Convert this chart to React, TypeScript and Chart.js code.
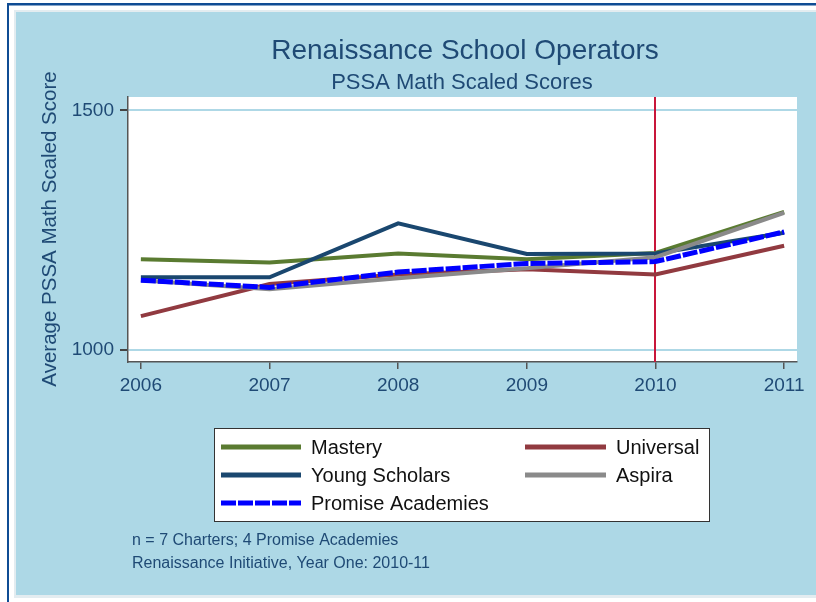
import React, { useEffect, useRef } from "react";
import { Chart, registerables } from "chart.js";

Chart.register(...registerables);

// ---- Data ----
const years = [2006, 2007, 2008, 2009, 2010, 2011];
const mastery = [1189, 1182, 1201, 1189, 1202, 1288];
const universal = [1070, 1137, 1157, 1168, 1157, 1217];
const youngScholars = [1151, 1151, 1264, 1200, 1201, 1244];
const aspira = [1145, 1126, 1149, 1170, 1193, 1286];
const promiseAcademies = [1145, 1130, 1162, 1180, 1184, 1246];
const yTickValues = [1000, 1500];
const markerYear = 2010;

const titleText = "Renaissance School Operators";
const subtitleText = "PSSA Math Scaled Scores";
const yAxisTitle = "Average PSSA Math Scaled Score";
const noteLines = ["n = 7 Charters; 4 Promise Academies", "Renaissance Initiative, Year One: 2010-11"];

const FONT = '"Liberation Sans", Arial, Helvetica, sans-serif';
const NAVY_TEXT = "#1f4a75";

type Series = { label: string; data: number[]; color: string; dash: number[]; order: number; col: number; row: number };

const series: Series[] = [
  { label: "Mastery", data: mastery, color: "#5a7b31", dash: [], order: 4, col: 0, row: 0 },
  { label: "Universal", data: universal, color: "#913a40", dash: [], order: 3, col: 1, row: 0 },
  { label: "Young Scholars", data: youngScholars, color: "#1a476f", dash: [], order: 2, col: 0, row: 1 },
  { label: "Aspira", data: aspira, color: "#8a8a8a", dash: [], order: 1, col: 1, row: 1 },
  { label: "Promise Academies", data: promiseAcademies, color: "#0000ff", dash: [15, 2], order: 0, col: 0, row: 2 },
];

const decor = {
  id: "decor",
  beforeDraw(chart: any) {
    const { ctx, width, height, chartArea } = chart;
    ctx.save();
    ctx.fillStyle = "#ffffff";
    ctx.fillRect(0, 0, width, height);
    ctx.fillStyle = "#e3ecf0";
    ctx.fillRect(14, 10, width - 14, 588);
    ctx.fillStyle = "#add8e6";
    ctx.fillRect(16, 12, width - 16, 583);
    ctx.fillStyle = "#0f4c94";
    ctx.fillRect(7, 3, width - 7, 2.5);
    ctx.fillRect(7, 3, 2, height - 3);
    ctx.fillStyle = "#ffffff";
    ctx.fillRect(chartArea.left, chartArea.top, chartArea.right - chartArea.left, chartArea.bottom - chartArea.top);
    ctx.restore();
  },
  beforeDatasetsDraw(chart: any) {
    const { ctx, chartArea } = chart;
    const x = Math.round(chart.scales.x.getPixelForValue(markerYear));
    ctx.save();
    ctx.strokeStyle = "#c8163a";
    ctx.lineWidth = 2;
    ctx.beginPath();
    ctx.moveTo(x, chartArea.top);
    ctx.lineTo(x, chartArea.bottom);
    ctx.stroke();
    ctx.restore();
  },
  afterDraw(chart: any) {
    const { ctx } = chart;
    ctx.save();
    // Titles
    ctx.fillStyle = NAVY_TEXT;
    ctx.textAlign = "center";
    ctx.textBaseline = "alphabetic";
    ctx.font = `28px ${FONT}`;
    ctx.fillText(titleText, 465, 59);
    ctx.font = `22px ${FONT}`;
    ctx.fillText(subtitleText, 462, 89);

    // Y axis title
    ctx.save();
    ctx.translate(56, 229);
    ctx.rotate(-Math.PI / 2);
    ctx.font = `20.5px ${FONT}`;
    ctx.textAlign = "center";
    ctx.fillText(yAxisTitle, 0, 0);
    ctx.restore();

    // Legend
    const bx = 214, by = 428, bw = 496, bh = 94;
    ctx.fillStyle = "#ffffff";
    ctx.fillRect(bx, by, bw, bh);
    ctx.strokeStyle = "#333333";
    ctx.lineWidth = 1;
    ctx.strokeRect(bx + 0.5, by + 0.5, bw - 1, bh - 1);
    const rowsY = [447, 475, 503];
    const colLine = [[221, 301], [525, 606]];
    const colText = [311, 616];
    ctx.font = `20px ${FONT}`;
    ctx.textAlign = "left";
    ctx.textBaseline = "middle";
    series.forEach((s) => {
      const y = rowsY[s.row];
      ctx.strokeStyle = s.color;
      ctx.lineWidth = 5;
      ctx.setLineDash(s.dash);
      ctx.beginPath();
      ctx.moveTo(colLine[s.col][0], y);
      ctx.lineTo(colLine[s.col][1], y);
      ctx.stroke();
      ctx.setLineDash([]);
      ctx.fillStyle = "#111111";
      ctx.fillText(s.label, colText[s.col], y + 1);
    });

    // Notes
    ctx.fillStyle = NAVY_TEXT;
    ctx.font = `16px ${FONT}`;
    ctx.fillText(noteLines[0], 132, 541);
    ctx.fillText(noteLines[1], 132, 564);
    ctx.restore();
  },
};

export default function App() {
  const canvasRef = useRef<HTMLCanvasElement | null>(null);

  useEffect(() => {
    const canvas = canvasRef.current;
    if (!canvas) return;
    const chart = new Chart(canvas, {
      type: "line",
      data: {
        datasets: series.map((s) => ({
          label: s.label,
          data: years.map((yr, i) => ({ x: yr, y: s.data[i] })),
          borderColor: s.color,
          backgroundColor: s.color,
          borderWidth: s.dash.length ? 5 : 4,
          borderDash: s.dash,
          pointRadius: 0,
          tension: 0,
          fill: false,
          order: s.order,
        })),
      },
      options: {
        responsive: false,
        animation: false,
        devicePixelRatio: 1,
        layout: { padding: { top: 97, right: 19, bottom: 200, left: 0 } },
        plugins: {
          legend: { display: false },
          title: { display: false },
          tooltip: { enabled: false },
        },
        scales: {
          x: {
            type: "linear",
            min: 2005.9,
            max: 2011.1,
            afterBuildTicks: (s: any) => {
              s.ticks = years.map((v) => ({ value: v }));
            },
            afterFit: (s: any) => {
              s.height = 40;
            },
            ticks: {
              callback: (v: any) => String(v),
              font: { family: FONT, size: 19 },
              color: NAVY_TEXT,
              padding: 5,
              maxRotation: 0,
              autoSkip: false,
            },
            grid: { drawOnChartArea: false, drawTicks: true, tickLength: 7, tickColor: "#555555", lineWidth: 1.5 },
            border: { display: true, color: "#555555", width: 1.5 },
          },
          y: {
            type: "linear",
            min: 974,
            max: 1528,
            afterBuildTicks: (s: any) => {
              s.ticks = yTickValues.map((v) => ({ value: v }));
            },
            afterFit: (s: any) => {
              s.width = 128;
            },
            ticks: {
              callback: (v: any) => String(v),
              font: { family: FONT, size: 19 },
              color: NAVY_TEXT,
              padding: 6,
            },
            grid: { color: "#aed8e6", lineWidth: 2, tickColor: "#444444", tickLength: 8, drawTicks: true },
            border: { display: true, color: "#555555", width: 1.5 },
          },
        },
      },
      plugins: [decor],
    } as any);
    return () => chart.destroy();
  }, []);

  return (
    <div style={{ position: "absolute", left: 0, top: 0, width: 816, height: 602 }}>
      <canvas ref={canvasRef} width={816} height={602} style={{ display: "block", width: 816, height: 602 }} />
    </div>
  );
}
